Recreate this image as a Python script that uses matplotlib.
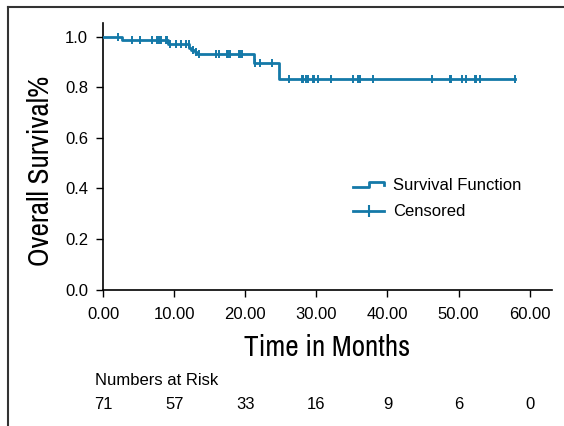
import matplotlib
matplotlib.use("Agg")
import matplotlib.pyplot as plt
import matplotlib.transforms as mtransforms
from matplotlib.lines import Line2D
from matplotlib.legend_handler import HandlerBase
from matplotlib import font_manager
import numpy as np

# --- DATA ---
step_times = [0, 2.6, 9.1, 12.1, 12.4, 12.9, 13.2, 21.2, 24.7, 57.9]
step_surv = [1.0, 0.986, 0.970, 0.954, 0.946, 0.938, 0.930, 0.897, 0.832, 0.832]
censor_times = [2.1, 4.0, 5.1, 6.9, 7.5, 7.8, 8.1, 8.8, 9.0,
                9.4, 10.2, 10.9, 11.6, 12.0, 12.6, 13.0, 13.4,
                15.9, 16.3, 17.4, 17.6, 17.9, 19.1, 19.3, 19.5,
                21.4, 22.1, 23.7,
                26.2, 27.9, 28.1, 28.5, 28.8, 29.5, 29.7, 30.2, 32.1,
                35.1, 35.8, 36.2, 37.9, 46.2, 48.8, 49.0, 50.5, 51.0,
                52.3, 52.5, 53.0, 57.9]
risk_times = [0, 10, 20, 30, 40, 50, 60]
risk_counts = [71, 57, 33, 16, 9, 6, 0]
x_ticks = [0, 10, 20, 30, 40, 50, 60]
y_ticks = [0.0, 0.2, 0.4, 0.6, 0.8, 1.0]

color = "#1479a8"
tick_font = "Liberation Sans"

# pick a condensed face if one is installed
names = sorted({f.name for f in font_manager.fontManager.ttflist})
cond = [n for n in names if "Narrow" in n or "Condensed" in n]
label_font = cond[:1] + ["Liberation Sans"] if cond else ["DejaVu Sans"]

# survival level at each censor time (post step)
idx = np.searchsorted(step_times, censor_times, side="right") - 1
censor_surv = np.array(step_surv)[idx]


class StepHandler(HandlerBase):
    def create_artists(self, legend, orig_handle, xdescent, ydescent,
                       width, height, fontsize, trans):
        x0, x1 = -xdescent, -xdescent + width
        yl = -ydescent + height * 0.25
        yh = -ydescent + height * 0.7
        xs = [x0, x0 + width * 0.5, x0 + width * 0.5, x1, x1]
        ys = [yl, yl, yh, yh, yl + height * 0.2]
        ln = Line2D(xs, ys, color=color, lw=2.0, transform=trans)
        return [ln]


fig = plt.figure(figsize=(5.64, 4.26), dpi=100)
ax = fig.add_axes([0.1832, 0.3204, 0.7948, 0.6256])

ax.step(step_times, step_surv, where="post", color=color, lw=2.0, zorder=3)
ax.plot(censor_times, censor_surv, linestyle="", marker="|", color=color,
        markersize=5.5, markeredgewidth=1.4, zorder=4)

ax.set_xlim(0, 63.1)
ax.set_ylim(0, 1.054)
ax.set_xticks(x_ticks)
ax.set_xticklabels([f"{t:.2f}" for t in x_ticks])
ax.set_yticks(y_ticks)
ax.set_yticklabels([f"{v:.1f}" for v in y_ticks])

for s in ["top", "right"]:
    ax.spines[s].set_visible(False)
for s in ["left", "bottom"]:
    ax.spines[s].set_linewidth(1.2)
ax.tick_params(direction="out", length=5, width=1.0, labelsize=12)
ax.tick_params(axis="x", pad=7.5)
ax.tick_params(axis="y", pad=6)
for lab in ax.get_xticklabels() + ax.get_yticklabels():
    lab.set_family(tick_font)

ax.set_xlabel("Time in Months", family=label_font, fontsize=21,
              fontstretch="condensed", labelpad=9)
fig.text(41 / 564, 1 - 171 / 426, "Overall Survival%", family=label_font,
         fontstretch="condensed", fontsize=21, rotation=90,
         ha="center", va="center")

# legend
h_surv = Line2D([], [], color=color, lw=2.0)
h_cens = Line2D([], [], color=color, lw=2.0, marker="|", markersize=8,
                markeredgewidth=1.5)
ax.legend([h_surv, h_cens], ["Survival Function", "Censored"],
          handler_map={h_surv: StepHandler()},
          loc="upper left", bbox_to_anchor=(0.557, 0.418), frameon=False,
          borderaxespad=0, borderpad=0,
          prop={"family": tick_font, "size": 12}, handlelength=1.86,
          handletextpad=0.55, labelspacing=0.68)

# numbers at risk
trans = mtransforms.blended_transform_factory(ax.transData, ax.transAxes)
ax.text(-1.2, -0.34, "Numbers at Risk", transform=trans, ha="left",
        va="center", fontsize=12, family=tick_font)
for t, n in zip(risk_times, risk_counts):
    ax.text(t, -0.433, str(n), transform=trans, ha="center", va="center",
            fontsize=12, family=tick_font)

# outer frame (top and left only)
fig.add_artist(Line2D([8 / 564, 1], [1 - 7 / 426, 1 - 7 / 426],
                      transform=fig.transFigure, color="#333333", lw=1.5))
fig.add_artist(Line2D([8 / 564, 8 / 564], [0, 1 - 7 / 426],
                      transform=fig.transFigure, color="#333333", lw=1.5))

fig.savefig("out.png", dpi=100)
